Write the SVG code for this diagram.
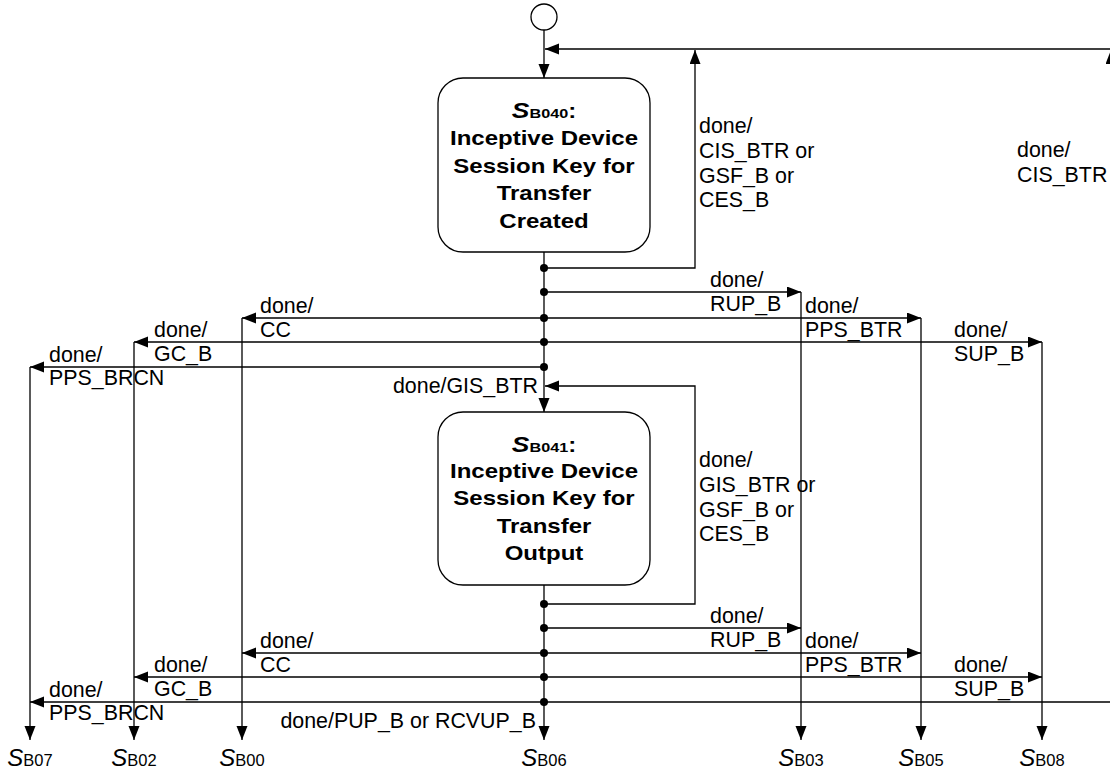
<svg xmlns="http://www.w3.org/2000/svg" width="1110" height="776" viewBox="0 0 1110 776">
<defs>
<marker id="ah" markerUnits="userSpaceOnUse" markerWidth="15" markerHeight="12" refX="14" refY="5.5" orient="auto">
<path d="M0,0 L14,5.5 L0,11 z" fill="#000"/>
</marker>
<style>
.ln{stroke:#000;stroke-width:1.3;fill:none}
.arr{stroke:#000;stroke-width:1.3;fill:none;marker-end:url(#ah)}
.box{stroke:#000;stroke-width:1.3;fill:#fff}
.dot{fill:#000}
.lbl{font-family:"Liberation Sans",Arial,sans-serif;font-size:21.4px;fill:#000}
.bt{font-family:"Liberation Sans",Arial,sans-serif;font-size:20px;font-weight:bold;fill:#000}
.st{font-family:"Liberation Sans",Arial,sans-serif;font-size:24px;fill:#000}
</style>
</defs>
<rect width="1110" height="776" fill="#fff"/>

<g id="connectors">
<path class="arr" d="M544,30 V78"/>
<path class="arr" d="M544,268 H695 V50"/>
<path class="arr" d="M1111,49 H545"/>
<path class="arr" d="M544,252 V412"/>
<path class="arr" d="M544,292 H801"/>
<path class="arr" d="M801,292 V740"/>
<path class="arr" d="M544,318 H242"/>
<path class="arr" d="M242,318 V740"/>
<path class="arr" d="M544,318 H921"/>
<path class="arr" d="M921,318 V740"/>
<path class="arr" d="M544,342 H134"/>
<path class="arr" d="M134,342 V740"/>
<path class="arr" d="M544,342 H1042"/>
<path class="arr" d="M1042,342 V740"/>
<path class="arr" d="M544,367 H30"/>
<path class="arr" d="M30,367 V740"/>
<path class="arr" d="M544,604 H695 V386 H545"/>
<path class="arr" d="M544,585 V740"/>
<path class="arr" d="M544,628 H801"/>
<path class="arr" d="M544,653 H242"/>
<path class="arr" d="M544,653 H921"/>
<path class="arr" d="M544,677 H134"/>
<path class="arr" d="M544,677 H1042"/>
<path class="arr" d="M544,702 H30"/>
<path class="arr" d="M544,702 H1111 V50"/>
<g class="dot">
<circle cx="544" cy="268" r="4"/>
<circle cx="544" cy="292" r="4"/>
<circle cx="544" cy="318" r="4"/>
<circle cx="544" cy="342" r="4"/>
<circle cx="544" cy="367" r="4"/>
<circle cx="544" cy="604" r="4"/>
<circle cx="544" cy="628" r="4"/>
<circle cx="544" cy="653" r="4"/>
<circle cx="544" cy="677" r="4"/>
<circle cx="544" cy="702" r="4"/>
</g>
<g class="lbl">
<text x="699" y="133">done/</text>
<text x="699" y="158">CIS_BTR or</text>
<text x="699" y="183">GSF_B or</text>
<text x="699" y="207">CES_B</text>
<text x="1017" y="157">done/</text>
<text x="1017" y="182">CIS_BTR</text>
<text x="699" y="467">done/</text>
<text x="699" y="492">GIS_BTR or</text>
<text x="699" y="517">GSF_B or</text>
<text x="699" y="541">CES_B</text>
<text x="538" y="393" text-anchor="end">done/GIS_BTR</text>
<text x="536" y="728" text-anchor="end">done/PUP_B or RCVUP_B</text>
<text x="710" y="287">done/</text><text x="710" y="311">RUP_B</text>
<text x="805" y="313">done/</text><text x="805" y="337">PPS_BTR</text>
<text x="954" y="337">done/</text><text x="954" y="361">SUP_B</text>
<text x="260" y="313">done/</text><text x="260" y="337">CC</text>
<text x="154" y="337">done/</text><text x="154" y="361">GC_B</text>
<text x="49" y="362">done/</text><text x="49" y="385">PPS_BRCN</text>
<text x="710" y="623">done/</text><text x="710" y="647">RUP_B</text>
<text x="805" y="648">done/</text><text x="805" y="672">PPS_BTR</text>
<text x="954" y="672">done/</text><text x="954" y="696">SUP_B</text>
<text x="260" y="648">done/</text><text x="260" y="672">CC</text>
<text x="154" y="672">done/</text><text x="154" y="696">GC_B</text>
<text x="49" y="697">done/</text><text x="49" y="720">PPS_BRCN</text>
</g>
</g>

<g id="start">
<circle cx="544" cy="17" r="13" class="box"/>
</g>

<g id="SB040">
<rect x="438" y="78" width="212" height="174" rx="25" ry="25" class="box"/>
<g transform="translate(544 0) scale(1.2 1)" class="bt" text-anchor="middle">
<text x="0" y="118"><tspan font-style="italic" font-size="22">S</tspan><tspan font-size="13.5">B040</tspan>:</text>
<text x="0" y="145">Inceptive Device</text>
<text x="0" y="173">Session Key for</text>
<text x="0" y="200">Transfer</text>
<text x="0" y="228">Created</text>
</g>
</g>

<g id="SB041">
<rect x="438" y="412" width="212" height="173" rx="25" ry="25" class="box"/>
<g transform="translate(544 0) scale(1.2 1)" class="bt" text-anchor="middle">
<text x="0" y="452"><tspan font-style="italic" font-size="22">S</tspan><tspan font-size="13.5">B041</tspan>:</text>
<text x="0" y="478">Inceptive Device</text>
<text x="0" y="505">Session Key for</text>
<text x="0" y="533">Transfer</text>
<text x="0" y="560">Output</text>
</g>
</g>

<g id="targets" class="st" text-anchor="middle">
<g id="SB07"><text x="30" y="766"><tspan font-style="italic">S</tspan><tspan font-size="16.5">B07</tspan></text></g>
<g id="SB02"><text x="134" y="766"><tspan font-style="italic">S</tspan><tspan font-size="16.5">B02</tspan></text></g>
<g id="SB00"><text x="242" y="766"><tspan font-style="italic">S</tspan><tspan font-size="16.5">B00</tspan></text></g>
<g id="SB06"><text x="544" y="766"><tspan font-style="italic">S</tspan><tspan font-size="16.5">B06</tspan></text></g>
<g id="SB03"><text x="801" y="766"><tspan font-style="italic">S</tspan><tspan font-size="16.5">B03</tspan></text></g>
<g id="SB05"><text x="921" y="766"><tspan font-style="italic">S</tspan><tspan font-size="16.5">B05</tspan></text></g>
<g id="SB08"><text x="1042" y="766"><tspan font-style="italic">S</tspan><tspan font-size="16.5">B08</tspan></text></g>
</g>
</svg>
